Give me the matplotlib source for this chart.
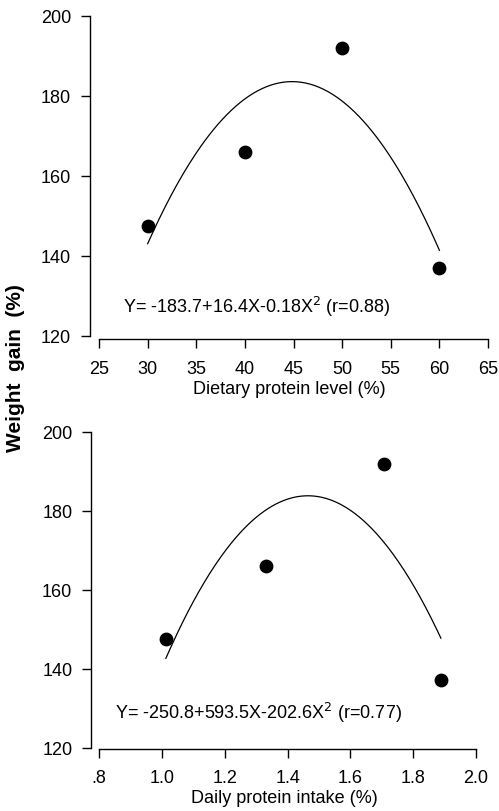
import numpy as np
import matplotlib
matplotlib.use("Agg")
import matplotlib.pyplot as plt

plt.rcParams['font.family'] = ['Liberation Sans', 'DejaVu Sans']

# Data
protein_level = [30, 40, 50, 60]
protein_intake = [1.012, 1.33, 1.707, 1.888]
weight_gain = [147.5, 166, 192, 137]

eq_top = "Y= -183.7+16.4X-0.18X$^2$ (r=0.88)"
eq_bot = "Y= -250.8+593.5X-202.6X$^2$ (r=0.77)"
xticks_top = [25, 30, 35, 40, 45, 50, 55, 60, 65]
xticks_bot = [0.8, 1.0, 1.2, 1.4, 1.6, 1.8, 2.0]
xticklabels_bot = [".8", "1.0", "1.2", "1.4", "1.6", "1.8", "2.0"]
yticks = [120, 140, 160, 180, 200]

W, H = 499, 812
fig = plt.figure(figsize=(W / 100, H / 100), dpi=100)

def px_axes(l, r, t, b):
    return fig.add_axes([l / W, 1 - b / H, (r - l) / W, (b - t) / H])

ax1 = px_axes(90, 489, 16, 340)
ax2 = px_axes(91, 477, 432, 749.5)

def style(ax, xlim, ylim, xb, xt, xtl, xlabel):
    ax.set_xlim(*xlim)
    ax.set_ylim(*ylim)
    for s in ['top', 'right']:
        ax.spines[s].set_visible(False)
    ax.spines['left'].set_bounds(120, 200)
    ax.spines['bottom'].set_bounds(*xb)
    for s in ['left', 'bottom']:
        ax.spines[s].set_linewidth(1.0)
    ax.set_xticks(xt)
    ax.set_xticklabels(xtl)
    ax.set_yticks(yticks)
    ax.tick_params(axis='both', direction='out', length=6.5, width=1.0, labelsize=13)
    ax.tick_params(axis='y', pad=7)
    ax.tick_params(axis='x', pad=8.5)
    ax.set_xlabel(xlabel, fontsize=13, labelpad=2)

style(ax1, (24.07, 65.1), (119.25, 200.25), (25, 65), xticks_top,
      [str(v) for v in xticks_top], "Dietary protein level (%)")
style(ax2, (0.7736, 2.003), (119.75, 200.25), (0.8, 2.0), xticks_bot,
      xticklabels_bot, "Daily protein intake (%)")

for ax, xs, eq, tx, ty in [(ax1, protein_level, eq_top, 27.47, 126.0),
                           (ax2, protein_intake, eq_bot, 0.85, 127.4)]:
    coef = np.polyfit(xs, weight_gain, 2)
    xx = np.linspace(min(xs), max(xs), 200)
    ax.plot(xx, np.polyval(coef, xx), color='black', lw=0.9)
    ax.scatter(xs, weight_gain, s=80, color='black', zorder=3, clip_on=False)
    ax.text(tx, ty, eq, fontsize=13, va='baseline', ha='left')

fig.text(16 / W, 1 - 368 / H, "Weight  gain  (%)", rotation=90, fontsize=15,
         fontweight='bold', ha='center', va='center')

fig.savefig("out.png", dpi=100)
